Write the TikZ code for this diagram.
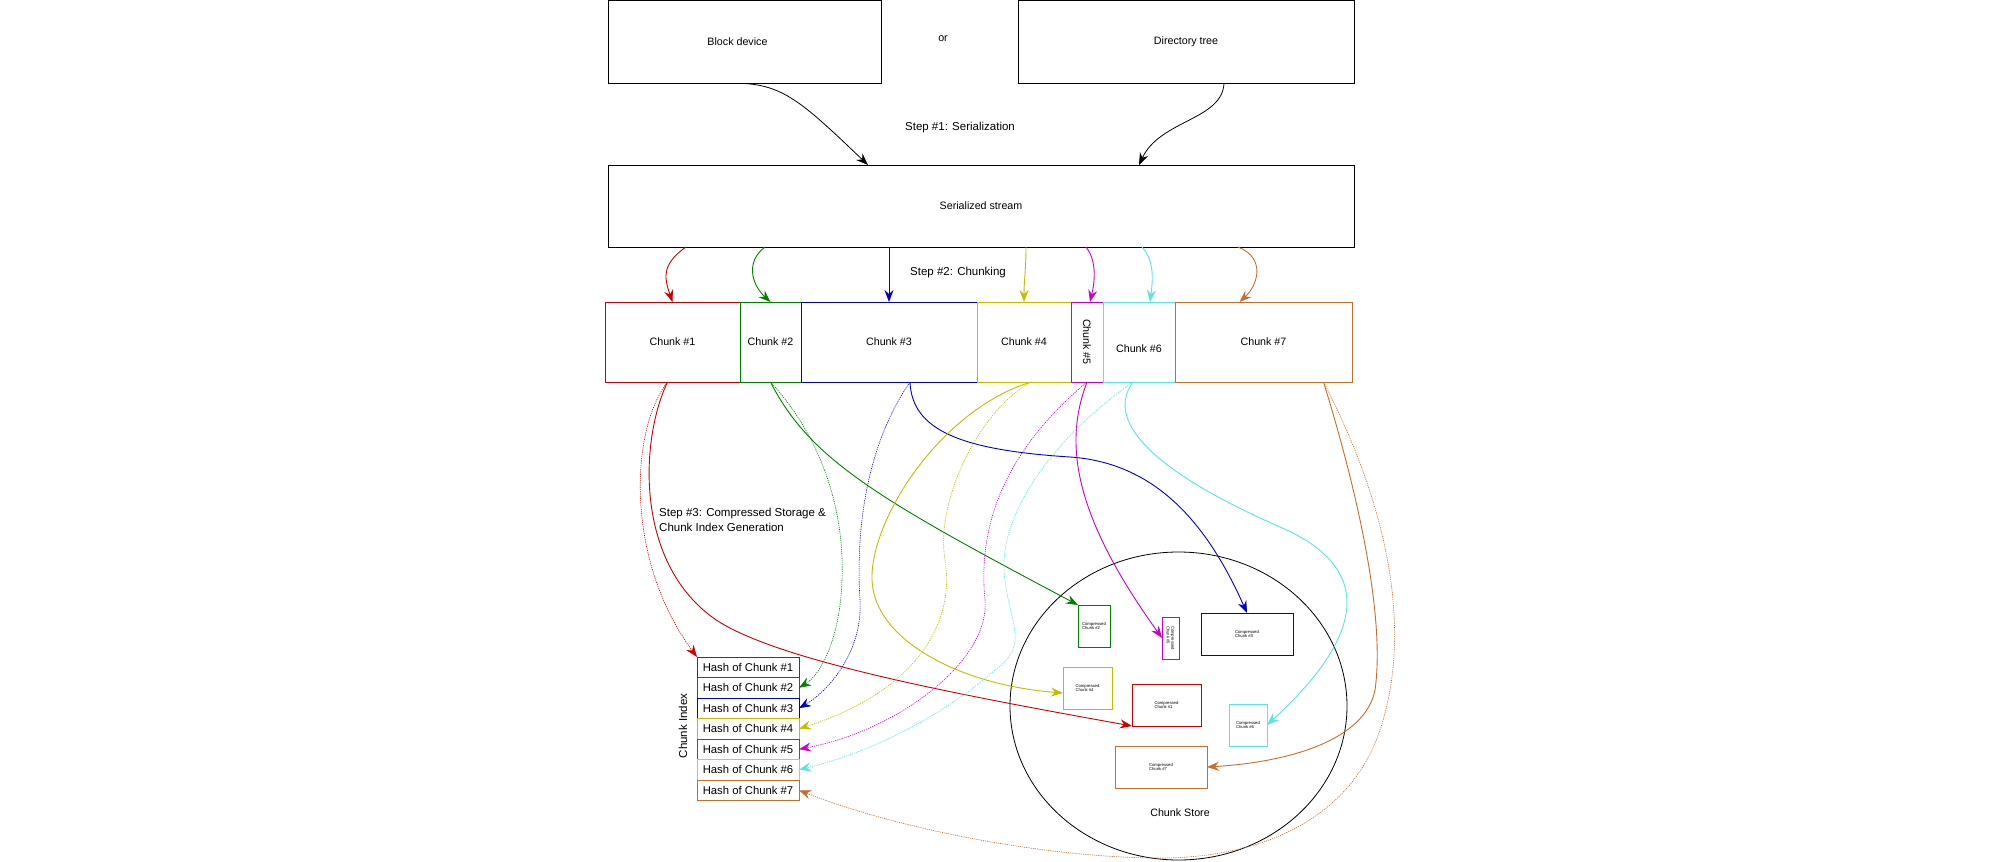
\documentclass[tikz,border=0pt]{standalone}
\usepackage{fontspec}
\setmainfont{Liberation Sans}
\usetikzlibrary{arrows.meta,calc,shapes.geometric}
\definecolor{cred}{RGB}{204,0,0}
\definecolor{cgreen}{RGB}{0,128,0}
\definecolor{cblue}{RGB}{0,0,204}
\definecolor{cyel}{RGB}{191,191,0}
\definecolor{cmag}{RGB}{204,0,204}
\definecolor{ccyan}{RGB}{90,228,228}
\definecolor{cbrown}{RGB}{200,110,45}
\begin{document}
\begin{tikzpicture}[x=1pt,y=-1pt,
  box/.style={draw, line width=0.8pt, inner sep=0pt, outer sep=0pt, anchor=north west, font=\fontsize{10.7}{12}\selectfont},
  chunkbox/.style={box, minimum height=80pt},
  hbox/.style={box, minimum width=102pt, minimum height=20.5pt, font=\fontsize{11.3}{13}\selectfont},
  cbox/.style={box, minimum height=42pt, align=left, font=\fontsize{4.2}{4.8}\selectfont},
  ctext/.style={inner sep=0pt, align=left, font=\fontsize{4.2}{4.8}\selectfont},
  tip/.style={-{Stealth[length=12pt,width=9pt,inset=4pt]}},
  link/.style={tip, line width=0.9pt},
  hlink/.style={tip, line width=0.6pt, dash pattern=on 1.2pt off 1pt},
  lbl/.style={inner sep=0pt, font=\fontsize{11.5}{15}\selectfont},
  blbl/.style={inner sep=0pt, font=\fontsize{10.7}{12}\selectfont}
]
\useasboundingbox (0,0) rectangle (2011,862);

% Step 1
\node[box, minimum width=273pt, minimum height=83pt] (bd) at (608,0.5) {Block device\kern14pt};
\node[box, minimum width=336pt, minimum height=83pt] (dt) at (1018,0.5) {Directory tree};
\node[blbl] (or) at (943,39) {or};
\node[box, minimum width=746pt, minimum height=82pt] (ss) at (608,165) {Serialized stream};
\node[lbl] (s1) at (960,128) {Step \#1: Serialization};
\node[lbl] (s2) at (958,273) {Step \#2: Chunking};

% chunks
\node[chunkbox, draw=cred, minimum width=135pt] (c1) at (605,302) {Chunk \#1};
\node[chunkbox, draw=cgreen, minimum width=61pt] (c2) at (740,302) {Chunk \#2};
\node[chunkbox, draw=cblue, minimum width=176pt] (c3) at (801,302) {Chunk \#3};
\node[chunkbox, draw=cyel, minimum width=94pt] (c4) at (977,302) {Chunk \#4};
\node[chunkbox, draw=cmag, minimum width=32pt] (c5) at (1071,302) {};
\node[blbl, rotate=-90] (c5t) at (c5.center) {Chunk \#5};
\node[chunkbox, draw=ccyan, minimum width=72pt] (c6) at (1103,302) {};
\node[blbl] (c6t) at ($(c6.center)+(0,7)$) {Chunk \#6};
\node[chunkbox, draw=cbrown, minimum width=177pt] (c7) at (1175,302) {Chunk \#7};

% chunk store
\node[draw, ellipse, line width=0.8pt, minimum width=337pt, minimum height=308pt, inner sep=0pt] (store) at (1178.5,706) {};
\node[blbl] (storet) at (1180,813) {Chunk Store};
\node[cbox, draw=cgreen, minimum width=32pt] (k2) at (1078,605) {Compressed\\Chunk \#2};
\node[cbox, draw=cmag, minimum width=17pt] (k5) at (1162,617) {};
\node[ctext, rotate=-90] (k5t) at (k5.center) {Compressed\\Chunk \#5};
\node[cbox, draw=cblue, minimum width=92pt] (k3) at (1201,613) {Compressed\\Chunk \#3};
\node[cbox, draw=cyel, minimum width=49pt] (k4) at (1063,667) {Compressed\\Chunk \#4};
\node[cbox, draw=cred, minimum width=69pt] (k1) at (1132,684) {Compressed\\Chunk \#1};
\node[cbox, draw=ccyan, minimum width=38pt] (k6) at (1229,704) {Compressed\\Chunk \#6};
\node[cbox, draw=cbrown, minimum width=92pt] (k7) at (1115,746) {Compressed\\Chunk \#7};

% chunk index
\node[hbox, draw=cred] (h1) at (697,657) {Hash of Chunk \#1};
\node[hbox, draw=cgreen] (h2) at (697,677.5) {Hash of Chunk \#2};
\node[hbox, draw=cblue] (h3) at (697,698) {Hash of Chunk \#3};
\node[hbox, draw=cyel] (h4) at (697,718.5) {Hash of Chunk \#4};
\node[hbox, draw=cmag] (h5) at (697,739) {Hash of Chunk \#5};
\node[hbox, draw=ccyan] (h6) at (697,759.5) {Hash of Chunk \#6};
\node[hbox, draw=cbrown] (h7) at (697,780) {Hash of Chunk \#7};
\node[lbl, rotate=90] (ci) at (683,726) {Chunk Index};
\node[lbl, anchor=west, align=left] (s3) at (659,519.5) {Step \#3: Compressed Storage \&\\Chunk Index Generation};

% step 1 connectors
\draw[link, line width=0.8pt] (bd.south) .. controls (785,86) and (805,105) .. ($(ss.north)+(-113,0)$);
\draw[link, line width=0.8pt] ($(dt.south)+(38,0)$) .. controls (1222,120) and (1160,120) .. ($(ss.north)+(158,0)$);

% step 2 connectors
\draw[link, cred] ($(ss.south)+(-295,0)$) .. controls (660,265) and (665,280) .. (c1.north);
\draw[link, cgreen] ($(ss.south)+(-216,0)$) .. controls (745,262) and (752,285) .. (c2.north);
\draw[link, cblue] (c3.north |- ss.south) -- (c3.north);
\draw[link, cyel] ($(ss.south)+(45,0)$) .. controls (1026,270) and (1024,280) .. (c4.north);
\draw[link, cmag] ($(ss.south)+(105,0)$) .. controls (1098,262) and (1094,285) .. ($(c5.north)+(3,0)$);
\draw[link, ccyan] ($(ss.south)+(161,0)$) .. controls (1156,262) and (1152,285) .. ($(c6.north)+(11,0)$);
\draw[link, cbrown] ($(ss.south)+(257,0)$) .. controls (1266,258) and (1258,285) .. ($(c7.north)+(-24,0)$);

% step 3 connectors: storage
\draw[link, cred] ($(c1.south)+(-5,0)$) .. controls (640,440) and (635,560) .. (712,617) .. controls (770,660) and (960,695) .. (k1.south west);
\draw[link, cgreen] (c2.south) .. controls (810,460) and (880,500) .. (k2.north west);
\draw[link, cblue] ($(c3.south)+(21,0)$) .. controls (912,430) and (960,450) .. (1070,457) .. controls (1160,463) and (1210,530) .. (k3.north);
\draw[link, cyel] ($(c4.south)+(7,0)$) .. controls (940,410) and (870,520) .. (872,580) .. controls (874,640) and (960,685) .. ($(k4.west)+(0,5)$);
\draw[link, cmag] (c5.south) .. controls (1065,440) and (1070,510) .. (k5.west);
\draw[link, ccyan] ($(c6.south)+(-6,0)$) .. controls (1105,420) and (1150,470) .. (1280,527) .. controls (1380,570) and (1360,640) .. (k6.east);
\draw[link, cbrown] ($(c7.south)+(60,0)$) .. controls (1360,500) and (1385,620) .. (1375,690) .. controls (1365,740) and (1290,762) .. (k7.east);

% step 3 connectors: index
\draw[hlink, cred] ($(c1.south)+(-5,0)$) .. controls (630,430) and (625,560) .. (h1.north west);
\draw[hlink, cgreen] (c2.south) .. controls (815,430) and (845,500) .. (842,580) .. controls (840,640) and (820,675) .. (h2.east);
\draw[hlink, cblue] ($(c3.south)+(21,0)$) .. controls (870,440) and (855,520) .. (860,600) .. controls (863,650) and (830,690) .. (h3.east);
\draw[hlink, cyel] ($(c4.south)+(7,0)$) .. controls (980,410) and (935,500) .. (945,560) .. controls (955,620) and (920,690) .. (h4.east);
\draw[hlink, cmag] (c5.south) .. controls (1030,430) and (975,500) .. (985,600) .. controls (990,660) and (900,730) .. (h5.east);
\draw[hlink, ccyan] ($(c6.south)+(-6,0)$) .. controls (1050,440) and (995,520) .. (1005,580) .. controls (1010,625) and (1030,645) .. (995,670) .. controls (950,710) and (880,750) .. (h6.east);
\draw[hlink, cbrown] ($(c7.south)+(60,0)$) .. controls (1395,520) and (1410,640) .. (1380,730) .. controls (1350,820) and (1260,858) .. (1160,858) .. controls (1050,858) and (900,830) .. (h7.east);
\end{tikzpicture}
\end{document}
